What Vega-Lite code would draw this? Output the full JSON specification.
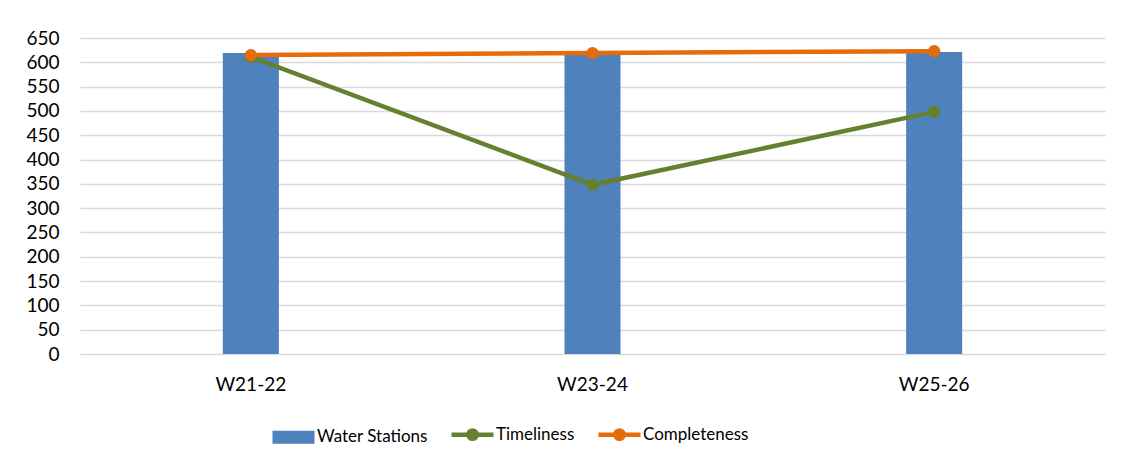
{
  "$schema": "https://vega.github.io/schema/vega-lite/v6.json",
  "width": 1025,
  "height": 316,
  "autosize": {"type": "none"},
  "padding": {"left": 80, "top": 38, "right": 18, "bottom": 112},
  "background": "white",
  "config": {
    "font": "Lato",
    "view": {"stroke": null},
    "axis": {"labelFont": "Lato", "labelColor": "#000000", "labelFontSize": 19}
  },
  "data": {
    "values": [
      {"week": "W21-22", "series": "Water Stations", "value": 619},
      {"week": "W23-24", "series": "Water Stations", "value": 620},
      {"week": "W25-26", "series": "Water Stations", "value": 621},
      {"week": "W21-22", "series": "Timeliness", "value": 611},
      {"week": "W23-24", "series": "Timeliness", "value": 348},
      {"week": "W25-26", "series": "Timeliness", "value": 498},
      {"week": "W21-22", "series": "Completeness", "value": 615},
      {"week": "W23-24", "series": "Completeness", "value": 619},
      {"week": "W25-26", "series": "Completeness", "value": 623}
    ]
  },
  "encoding": {
    "x": {
      "field": "week", "type": "nominal", "title": null,
      "scale": {"paddingInner": 0, "paddingOuter": 0},
      "axis": {"labelAngle": 0, "domain": false, "ticks": false, "labelPadding": 21}
    },
    "y": {
      "field": "value", "type": "quantitative", "title": null,
      "scale": {"domain": [0, 650], "nice": false},
      "axis": {"values": [0,50,100,150,200,250,300,350,400,450,500,550,600,650], "domain": false, "ticks": false, "labelPadding": 21, "gridColor": "#D9D9D9", "gridWidth": 1.5}
    },
    "color": {
      "field": "series", "type": "nominal",
      "scale": {"domain": ["Water Stations", "Timeliness", "Completeness"], "range": ["#4F81BD", "#65802F", "#E46C0A"]},
      "legend": {
        "title": null, "orient": "none", "direction": "horizontal",
        "legendX": 205, "legendY": 388,
        "labelFontSize": 17, "labelFont": "Lato", "labelColor": "#000000",
        "symbolSize": 1764, "columnPadding": 14, "labelOffset": 15,
        "encode": {
          "symbols": {
            "update": {
              "shape": {"signal": "datum.value === 'Water Stations' ? 'M-1,-0.31H1V0.31H-1Z' : 'M-1,0H1M-0.2,0A0.2,0.2 0 1,0 0.2,0A0.2,0.2 0 1,0 -0.2,0'"},
              "fill": {"scale": "color", "field": "value"},
              "stroke": {"scale": "color", "field": "value"},
              "strokeWidth": {"signal": "datum.value === 'Water Stations' ? 0 : 4.5"},
              "opacity": {"value": 1}
            }
          }
        }
      }
    }
  },
  "layer": [
    {
      "transform": [{"filter": "datum.series === 'Water Stations'"}],
      "mark": {"type": "bar", "width": {"band": 0.164}}
    },
    {
      "transform": [{"filter": "datum.series !== 'Water Stations'"}],
      "mark": {"type": "line", "strokeWidth": 4.5},
      "encoding": {"order": {"field": "week"}}
    },
    {
      "transform": [{"filter": "datum.series !== 'Water Stations'"}],
      "mark": {"type": "point", "filled": true, "size": 150, "opacity": 1}
    }
  ]
}
